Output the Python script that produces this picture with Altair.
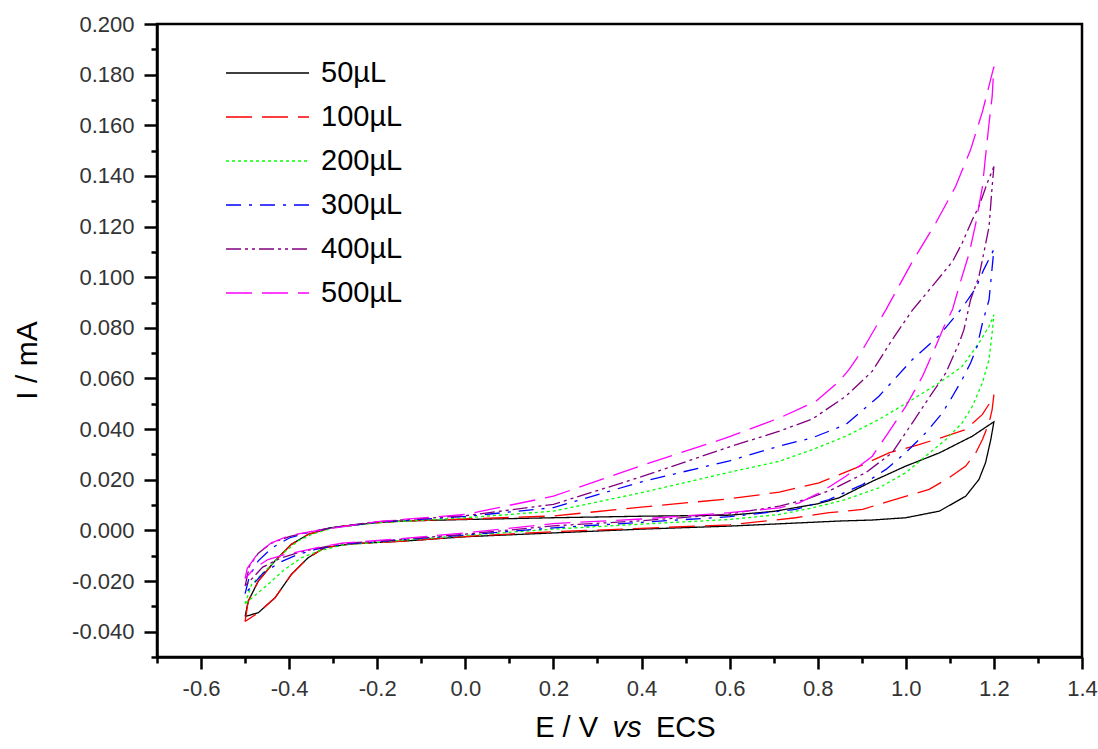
import altair as alt
import pandas as pd

SERIES = ["50µL", "100µL", "200µL", "300µL", "400µL", "500µL"]
COLORS = ["#000000", "#ff0000", "#00ff00", "#0000ff", "#800080", "#ff00ff"]
DASHES = [[1, 0], [26, 10], [3, 3], [15, 8, 3, 8], [15, 4, 3, 4, 3, 4], [26, 10]]

X_MAJOR = [-0.6, -0.4, -0.2, 0.0, 0.2, 0.4, 0.6, 0.8, 1.0, 1.2, 1.4]
X_MINOR = [-0.7, -0.5, -0.3, -0.1, 0.1, 0.3, 0.5, 0.7, 0.9, 1.1, 1.3]
Y_MAJOR = [-0.04, -0.02, 0.0, 0.02, 0.04, 0.06, 0.08, 0.10, 0.12, 0.14, 0.16, 0.18, 0.20]
Y_MINOR = [-0.05, -0.03, -0.01, 0.01, 0.03, 0.05, 0.07, 0.09, 0.11, 0.13, 0.15, 0.17, 0.19]

# 50 uL
E_50 = [-0.50, -0.493, -0.47, -0.432, -0.395, -0.357, -0.304, -0.206, -0.14, 0.0, 0.2, 0.4, 0.6, 0.7, 0.8,
        0.849, 0.924, 1.0, 1.076, 1.151, 1.2,
        1.193, 1.181, 1.166, 1.136, 1.076, 1.0, 0.924, 0.849, 0.7, 0.6, 0.4, 0.2, 0.0, -0.138, -0.258,
        -0.319, -0.357, -0.395, -0.432, -0.47, -0.50]
I_50 = [-0.034, -0.028, -0.020, -0.012, -0.0055, -0.0016, 0.0011, 0.0030, 0.0037, 0.0043, 0.0050, 0.0056,
        0.0060, 0.0075, 0.0105, 0.0129, 0.0194, 0.0254, 0.0306, 0.0372, 0.0429,
        0.0359, 0.0267, 0.0201, 0.0135, 0.0076, 0.0050, 0.0041, 0.0037, 0.0025, 0.0017, 0.0005, -0.0010,
        -0.0025, -0.0042, -0.0053, -0.0068, -0.0108, -0.0174, -0.0266, -0.0325, -0.034]

# 100 uL
E_100 = [-0.50, -0.493, -0.47, -0.432, -0.395, -0.357, -0.304, -0.206, -0.14, 0.0, 0.2, 0.4, 0.6, 0.713,
         0.803, 0.887, 0.963, 1.03, 1.091, 1.136, 1.174, 1.193, 1.2,
         1.196, 1.189, 1.174, 1.159, 1.136, 1.098, 1.053, 1.015, 0.963, 0.902, 0.826, 0.75, 0.6, 0.4, 0.2,
         0.0, -0.138, -0.258, -0.319, -0.357, -0.395, -0.432, -0.47, -0.50]
I_100 = [-0.036, -0.028, -0.020, -0.012, -0.0055, -0.0016, 0.0011, 0.0030, 0.0037, 0.0045, 0.0057, 0.0092,
         0.0125, 0.0151, 0.0188, 0.0247, 0.0307, 0.0339, 0.0372, 0.0398, 0.0458, 0.0510, 0.0536,
         0.0477, 0.0425, 0.0359, 0.0307, 0.0254, 0.0208, 0.0162, 0.0142, 0.0116, 0.0083, 0.0070, 0.0050,
         0.0022, 0.0008, -0.0005, -0.0024, -0.0042, -0.0053, -0.0068, -0.0108, -0.0174, -0.0266, -0.0325,
         -0.036]

# 200 uL
E_200 = [-0.50, -0.485, -0.455, -0.417, -0.38, -0.349, -0.30, -0.20, 0.0, 0.2, 0.4, 0.6, 0.713, 0.788,
         0.864, 0.939, 1.015, 1.076, 1.128, 1.166, 1.189, 1.2,
         1.196, 1.189, 1.174, 1.151, 1.128, 1.091, 1.045, 1.0, 0.939, 0.864, 0.788, 0.713, 0.6, 0.4, 0.2,
         0.0, -0.15, -0.28, -0.334, -0.372, -0.41, -0.448, -0.50]
I_200 = [-0.029, -0.0213, -0.0161, -0.0095, -0.0042, -0.0016, 0.0010, 0.0030, 0.0050, 0.0076, 0.0149,
         0.0230, 0.0273, 0.0319, 0.0372, 0.0438, 0.0517, 0.0583, 0.0648, 0.0740, 0.0806, 0.0852,
         0.0780, 0.0675, 0.0583, 0.0490, 0.0425, 0.0359, 0.0293, 0.0228, 0.0168, 0.0122, 0.0089, 0.0063,
         0.0043, 0.0025, 0.0005, -0.0020, -0.0040, -0.0058, -0.0082, -0.0108, -0.0154, -0.0213, -0.029]

# 300 uL
E_300 = [-0.50, -0.49, -0.47, -0.44, -0.40, -0.36, -0.30, -0.20, 0.0, 0.2, 0.4, 0.6, 0.713, 0.788, 0.864,
         0.939, 1.015, 1.076, 1.128, 1.159, 1.177, 1.2,
         1.189, 1.174, 1.162, 1.147, 1.128, 1.106, 1.083, 1.045, 1.0, 0.955, 0.902, 0.826, 0.75, 0.6, 0.4,
         0.2, 0.0, -0.15, -0.28, -0.34, -0.38, -0.42, -0.46, -0.50]
I_300 = [-0.025, -0.018, -0.012, -0.007, -0.003, -0.001, 0.0012, 0.0032, 0.0055, 0.0090, 0.0192, 0.0275,
         0.0333, 0.0366, 0.0418, 0.0530, 0.0675, 0.0770, 0.0879, 0.0957, 0.1030, 0.1110,
         0.0911, 0.0819, 0.0727, 0.0661, 0.0596, 0.0530, 0.0464, 0.0385, 0.0307, 0.0241, 0.0181, 0.0122,
         0.0083, 0.0054, 0.0032, 0.0010, -0.0018, -0.0038, -0.0055, -0.0075, -0.0095, -0.0125, -0.017,
         -0.025]

# 400 uL
E_400 = [-0.50, -0.49, -0.47, -0.44, -0.40, -0.36, -0.30, -0.20, 0.0, 0.2, 0.4, 0.6, 0.713, 0.788, 0.864,
         0.924, 0.969, 1.015, 1.06, 1.106, 1.128, 1.151, 1.166, 1.185, 1.2,
         1.196, 1.189, 1.177, 1.166, 1.147, 1.132, 1.121, 1.091, 1.045, 1.015, 0.969, 0.909, 0.833, 0.773,
         0.713, 0.6, 0.4, 0.2, 0.0, -0.15, -0.28, -0.34, -0.38, -0.42, -0.46, -0.50]
I_400 = [-0.022, -0.014, -0.009, -0.005, -0.0025, -0.0008, 0.0012, 0.0035, 0.0058, 0.0103, 0.0212, 0.0330,
         0.0392, 0.0440, 0.0530, 0.0629, 0.0753, 0.0870, 0.0964, 0.1062, 0.1135, 0.1227, 0.1279, 0.1372,
         0.1437,
         0.1358, 0.1200, 0.1095, 0.1003, 0.0911, 0.0793, 0.0740, 0.0622, 0.0504, 0.0425, 0.0307, 0.0228,
         0.0162, 0.0122, 0.0096, 0.0065, 0.0038, 0.0018, -0.0015, -0.0036, -0.0052, -0.0072, -0.0088,
         -0.011, -0.0145, -0.022]

# 500 uL
E_500 = [-0.50, -0.495, -0.47, -0.44, -0.402, -0.364, -0.319, -0.20, 0.0, 0.2, 0.4, 0.6, 0.713, 0.796,
         0.849, 0.871, 0.902, 0.955, 1.015, 1.068, 1.113, 1.147, 1.174, 1.2,
         1.196, 1.189, 1.181, 1.174, 1.159, 1.144, 1.121, 1.106, 1.087, 1.068, 1.038, 1.0, 0.955, 0.924,
         0.864, 0.811, 0.758, 0.713, 0.6, 0.4, 0.2, 0.0, -0.15, -0.28, -0.319, -0.372, -0.41, -0.448,
         -0.478, -0.50]
I_500 = [-0.019, -0.015, -0.0088, -0.0049, -0.0022, -0.0009, 0.0004, 0.0035, 0.0063, 0.0135, 0.0256,
         0.0370, 0.0444, 0.0510, 0.0589, 0.0635, 0.0714, 0.0872, 0.1062, 0.1214, 0.1358, 0.1503, 0.1654,
         0.1832,
         0.1713, 0.1608, 0.1477, 0.1358, 0.1214, 0.1095, 0.0964, 0.0872, 0.0806, 0.0727, 0.0609, 0.0490,
         0.0372, 0.0293, 0.0214, 0.0155, 0.0109, 0.0089, 0.0070, 0.0045, 0.0027, -0.0010, -0.0033, -0.005,
         -0.0062, -0.0082, -0.0095, -0.0115, -0.0148, -0.019]

CURVES = [(E_50, I_50), (E_100, I_100), (E_200, I_200), (E_300, I_300), (E_400, I_400), (E_500, I_500)]

rows = []
for name, (es, cs) in zip(SERIES, CURVES):
    for k, (e, c) in enumerate(zip(es, cs)):
        rows.append({"vol": name, "idx": k, "E": e, "I": c})
df = pd.DataFrame(rows)

FONT = "Liberation Sans"
MINUS = "\u2212"
x_scale = alt.Scale(domain=[-0.7, 1.4], nice=False, zero=False)
y_scale = alt.Scale(domain=[-0.05, 0.2], nice=False, zero=False)

legend = alt.Legend(
    title=None, orient="none", legendX=68, legendY=27, symbolType="stroke", symbolSize=6889,
    symbolStrokeWidth=1.3, labelFont=FONT, labelFontSize=29, labelColor="black", labelOffset=11,
    clipHeight=44, rowPadding=0, padding=0,
)

lines = alt.Chart(df).mark_line(strokeWidth=1.3, clip=True).encode(
    x=alt.X("E:Q", scale=x_scale, axis=alt.Axis(
        orient="bottom", values=X_MAJOR, labelExpr=f"replace(format(datum.value, '.1f'), '{MINUS}', '-')",
        tickSize=12, tickWidth=2.5, tickColor="black", domainWidth=2.5, domainColor="black", grid=False,
        title=None, labelFont=FONT, labelFontSize=22, labelColor="#333333", labelPadding=9,
        labelFlush=False, labelOverlap=False)),
    y=alt.Y("I:Q", scale=y_scale, axis=alt.Axis(
        orient="left", values=Y_MAJOR, labelExpr=f"replace(format(datum.value, '.3f'), '{MINUS}', '-')",
        tickSize=13, tickWidth=2.5, tickColor="black", domainWidth=2.5, domainColor="black", grid=False,
        labelFont=FONT, labelFontSize=22, labelColor="#333333", labelPadding=10, labelFlush=False,
        labelOverlap=False, title="I / mA", titleFont=FONT, titleFontSize=30, titleFontWeight="normal",
        titleColor="black", titleX=-130, titleY=336, titleAlign="center", titleBaseline="middle")),
    color=alt.Color("vol:N", scale=alt.Scale(domain=SERIES, range=COLORS), legend=legend),
    strokeDash=alt.StrokeDash("vol:N", scale=alt.Scale(domain=SERIES, range=DASHES), legend=legend),
    order=alt.Order("idx:Q"),
)

minor = alt.Chart(df).mark_point(opacity=0).encode(
    x=alt.X("E:Q", scale=x_scale, axis=alt.Axis(
        orient="bottom", values=X_MINOR, labels=False, tickSize=6, tickWidth=2.5, tickColor="black",
        domain=False, grid=False, title=None)),
    y=alt.Y("I:Q", scale=y_scale, axis=alt.Axis(
        orient="left", values=Y_MINOR, labels=False, tickSize=6, tickWidth=2.5, tickColor="black",
        domain=False, grid=False, title=None)),
)

title_df = pd.DataFrame({"t": ["E / V", "vs", "ECS"]})
t1 = alt.Chart(title_df).transform_filter("datum.t == 'E / V'").mark_text(
    font=FONT, fontSize=29, align="right", baseline="alphabetic", color="black"
).encode(text="t:N", x=alt.value(441), y=alt.value(713))
t2 = alt.Chart(title_df).transform_filter("datum.t == 'vs'").mark_text(
    font=FONT, fontSize=29, fontStyle="italic", align="center", baseline="alphabetic", color="black"
).encode(text="t:N", x=alt.value(470), y=alt.value(713))
t3 = alt.Chart(title_df).transform_filter("datum.t == 'ECS'").mark_text(
    font=FONT, fontSize=29, align="left", baseline="alphabetic", color="black"
).encode(text="t:N", x=alt.value(499), y=alt.value(713))

chart = alt.layer(minor, lines, t1, t2, t3).resolve_axis(
    x="independent", y="independent"
).properties(
    width=925, height=633,
    padding={"left": 157, "top": 24, "right": 16, "bottom": 92},
    autosize=alt.AutoSizeParams(type="none"),
).configure_view(stroke="black", strokeWidth=2.5)

chart.save("out.html", embed_options={"renderer": "svg", "actions": False})
